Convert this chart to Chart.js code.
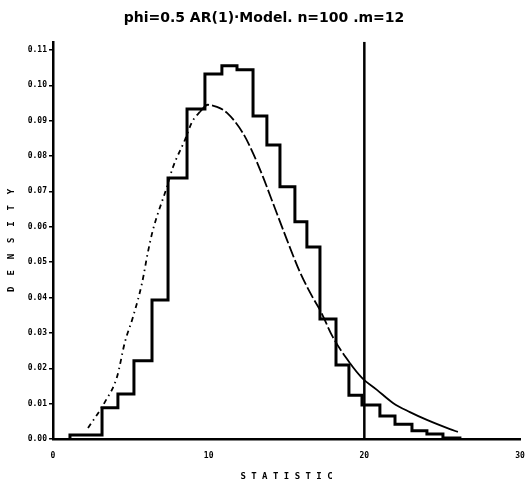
<!DOCTYPE html>
<html>
<head>
<meta charset="utf-8">
<script src="https://cdn.jsdelivr.net/npm/chart.js@4.4.1/dist/chart.umd.min.js"></script>
<style>
    html, body { margin: 0; padding: 0; background: #fff; }
    #box { width: 528px; height: 482px; }
</style>
</head>
<body>
<div id="box"><canvas id="grafico"></canvas></div>
<script>
// histogram: bin edges and bar heights
const binEdges = [1.09, 3.15, 4.17, 5.2, 6.36, 7.39, 8.61, 9.76, 10.85, 11.82, 12.85, 13.74,
    14.58, 15.54, 16.31, 17.15, 18.18, 19.01, 19.85, 21.0, 21.97, 23.06, 24.02, 25.05, 26.14];
const binHeights = [0.0011, 0.0088, 0.0127, 0.0221, 0.0393, 0.0738, 0.0933, 0.1032, 0.1055,
    0.1044, 0.0913, 0.0831, 0.0713, 0.0614, 0.0543, 0.0339, 0.0209, 0.0124, 0.0096, 0.0065,
    0.0042, 0.0023, 0.0014, 0.0003];

// fitted density curve
const curveX = [2.25, 3.34, 4.11, 4.62, 5.14, 5.72, 6.1, 6.42, 7.32, 7.71, 8.48, 8.93, 9.44,
    9.95, 10.53, 11.18, 12.2, 12.84, 13.49, 14.13, 15.03, 15.86, 16.7, 17.15, 17.98, 19.07,
    19.85, 20.81, 21.84, 22.93, 24.02, 25.5, 26.01];
const curveY = [0.0031, 0.0105, 0.0175, 0.0274, 0.0345, 0.0441, 0.0529, 0.0591, 0.0713, 0.0769,
    0.0846, 0.0896, 0.0925, 0.0945, 0.0939, 0.0922, 0.0865, 0.0809, 0.0741, 0.0667, 0.0563,
    0.0472, 0.0399, 0.0365, 0.0288, 0.0215, 0.0173, 0.0139, 0.0102, 0.0076, 0.0054, 0.0028,
    0.002];

// critical value line
const cutoffX = 20;

const xTicks = [0, 10, 20, 30];
const yTicks = [0, 0.01, 0.02, 0.03, 0.04, 0.05, 0.06, 0.07, 0.08, 0.09, 0.10, 0.11];
const yMax = 0.1123;

const tituloGrafico = 'phi=0.5 AR(1)·Model. n=100 .m=12';

// histogram as a step outline
let histPontos = [{ x: binEdges[0], y: 0 }];
for (let i = 0; i < binHeights.length; i++) {
    histPontos.push({ x: binEdges[i], y: binHeights[i] });
    histPontos.push({ x: binEdges[i + 1], y: binHeights[i] });
}
histPontos.push({ x: binEdges[binEdges.length - 1], y: 0 });

let curvaPontos = [];
for (let i = 0; i < curveX.length; i++) {
    curvaPontos.push({ x: curveX[i], y: curveY[i] });
}

const fonteMono = 'DejaVu Sans Mono';

const config = {
    type: 'scatter',
    data: {
        datasets: [
            {
                label: 'histograma',
                data: histPontos,
                showLine: true,
                borderColor: '#000',
                borderWidth: 3,
                pointRadius: 0,
                tension: 0,
            },
            {
                label: 'densidade',
                data: curvaPontos,
                showLine: true,
                borderColor: '#000',
                borderWidth: 1.8,
                pointRadius: 0,
                cubicInterpolationMode: 'monotone',
                segment: {
                    borderDash: function (ctx) {
                        const x = ctx.p0.parsed.x;
                        if (x < 9) return [5, 4, 1.5, 4];
                        if (x < 18.3) return [12, 3];
                        return [];
                    }
                }
            },
            {
                label: 'corte',
                data: [{ x: cutoffX, y: 0 }, { x: cutoffX, y: yMax }],
                showLine: true,
                borderColor: '#000',
                borderWidth: 2.5,
                pointRadius: 0,
            }
        ]
    },
    options: {
        responsive: true,
        maintainAspectRatio: false,
        animation: false,
        layout: { padding: 0 },
        plugins: {
            legend: { display: false },
            tooltip: { enabled: false },
            title: {
                display: true,
                text: tituloGrafico,
                color: '#000',
                font: { family: 'DejaVu Sans', size: 14, weight: 'bold' },
                padding: { top: 10, bottom: 15 }
            }
        },
        scales: {
            x: {
                type: 'linear',
                min: 0,
                max: 30,
                afterBuildTicks: function (scale) {
                    scale.ticks = xTicks.map(v => ({ value: v }));
                },
                afterFit: function (scale) {
                    scale.height = 43;
                    scale.paddingRight = 8;
                },
                grid: { display: false, drawTicks: false },
                border: { display: true, color: '#000', width: 2.5 },
                ticks: {
                    color: '#000',
                    padding: 12,
                    maxRotation: 0,
                    font: { family: fonteMono, size: 8, weight: 'bold' },
                    callback: v => String(v)
                },
                title: {
                    display: true,
                    text: 'S T A T I S T I C',
                    color: '#000',
                    font: { family: fonteMono, size: 9, weight: 'bold' },
                    padding: { top: 4, bottom: 0 }
                }
            },
            y: {
                type: 'linear',
                min: 0,
                max: yMax,
                afterBuildTicks: function (scale) {
                    scale.ticks = yTicks.map(v => ({ value: v }));
                },
                afterFit: function (scale) { scale.width = 53; },
                grid: { display: true, drawOnChartArea: false, drawTicks: true, tickLength: 4, color: '#000', lineWidth: 1.5 },
                border: { display: true, color: '#000', width: 2.5 },
                ticks: {
                    color: '#000',
                    padding: 2,
                    font: { family: fonteMono, size: 8, weight: 'bold' },
                    callback: v => Number(v).toFixed(2)
                },
                title: {
                    display: true,
                    text: 'D  E  N  S  I  T  Y',
                    color: '#000',
                    font: { family: fonteMono, size: 9, weight: 'bold' },
                    padding: { top: 6, bottom: 0 }
                }
            }
        }
    }
};

let grafico = new Chart(document.getElementById('grafico'), config);
</script>
</body>
</html>
